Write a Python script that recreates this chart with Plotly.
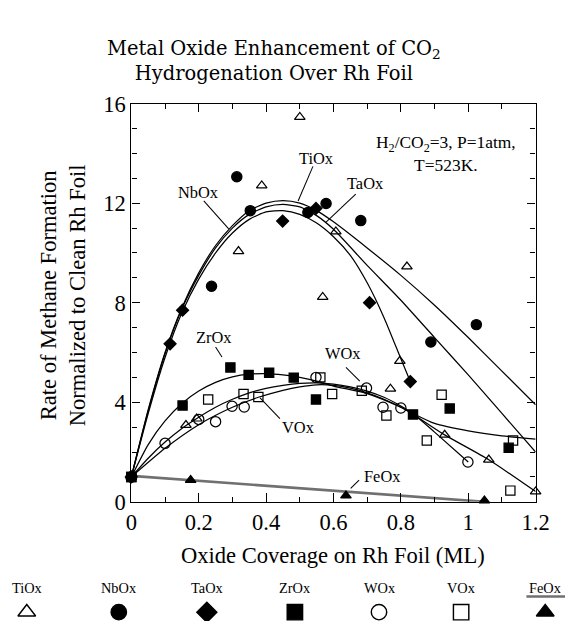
import plotly.graph_objects as go

# ---------------- data ----------------
series_names = ["TiOx", "NbOx", "TaOx", "ZrOx", "WOx", "VOx", "FeOx"]

TiOx_x = [0, 0.162, 0.194, 0.318, 0.387, 0.50, 0.568, 0.607, 0.769, 0.797, 0.818, 0.93, 1.061, 1.2]
TiOx_y = [1, 3.08, 3.34, 10.07, 12.71, 15.46, 8.23, 10.86, 4.54, 5.66, 9.45, 2.69, 1.69, 0.41]

NbOx_x = [0, 0.238, 0.313, 0.353, 0.524, 0.578, 0.681, 0.889, 1.024]
NbOx_y = [1, 8.66, 13.06, 11.7, 11.63, 11.99, 11.3, 6.42, 7.12]

TaOx_x = [0, 0.115, 0.152, 0.449, 0.548, 0.707, 0.828]
TaOx_y = [1, 6.35, 7.7, 11.28, 11.79, 8.0, 4.83]

ZrOx_x = [0, 0.152, 0.294, 0.348, 0.409, 0.482, 0.548, 0.836, 0.945, 1.12]
ZrOx_y = [1, 3.87, 5.40, 5.10, 5.19, 4.99, 4.11, 3.51, 3.75, 2.17]

WOx_x = [0, 0.1, 0.2, 0.25, 0.299, 0.335, 0.548, 0.698, 0.747, 0.8, 0.999]
WOx_y = [1, 2.35, 3.31, 3.22, 3.84, 3.81, 5.0, 4.57, 3.8, 3.77, 1.6]

VOx_x = [0, 0.228, 0.333, 0.377, 0.561, 0.596, 0.684, 0.757, 0.877, 0.921, 1.125, 1.133]
VOx_y = [1, 4.11, 4.33, 4.21, 5.0, 4.33, 4.46, 3.47, 2.46, 4.3, 0.45, 2.46]

FeOx_x = [0, 0.176, 0.637, 1.048]
FeOx_y = [1, 0.87, 0.25, 0.05]

# fitted curves
fitTi_x = [0, 0.05, 0.1, 0.15, 0.2, 0.25, 0.3, 0.35, 0.4, 0.45, 0.5, 0.55, 0.6, 0.7, 0.8, 0.9, 1.0, 1.1, 1.2]
fitTi_y = [1, 3.7, 6.0, 7.8, 9.2, 10.3, 11.1, 11.7, 12.0, 12.1, 12.0, 11.7, 11.25, 10.2, 9.1, 7.9, 6.6, 5.25, 3.9]

fitNb_x = [0, 0.05, 0.1, 0.15, 0.2, 0.25, 0.3, 0.35, 0.4, 0.45, 0.5, 0.55, 0.6, 0.7, 0.8, 0.9, 1.0, 1.1, 1.2]
fitNb_y = [1, 3.65, 5.95, 7.75, 9.1, 10.2, 11.0, 11.55, 11.85, 11.95, 11.85, 11.5, 10.95, 9.5, 8.1, 6.6, 5.1, 3.55, 2.0]

fitTa_x = [0, 0.05, 0.1, 0.15, 0.2, 0.25, 0.3, 0.35, 0.4, 0.45, 0.5, 0.55, 0.6, 0.65, 0.7, 0.75, 0.8, 0.828]
fitTa_y = [1, 3.55, 5.8, 7.6, 8.95, 10.0, 10.8, 11.35, 11.65, 11.7, 11.55, 11.2, 10.65, 9.9, 8.8, 7.4, 5.75, 4.83]

fitZr_x = [0, 0.05, 0.1, 0.15, 0.2, 0.25, 0.3, 0.35, 0.4, 0.45, 0.5, 0.55, 0.6, 0.7, 0.8, 0.836, 0.9, 1.0, 1.1, 1.2]
fitZr_y = [1, 2.3, 3.25, 3.95, 4.45, 4.8, 5.02, 5.13, 5.15, 5.1, 5.0, 4.85, 4.65, 4.35, 3.8, 3.55, 3.15, 2.85, 2.65, 2.52]

fitW_x = [0, 0.05, 0.1, 0.15, 0.2, 0.25, 0.3, 0.35, 0.4, 0.45, 0.5, 0.55, 0.6, 0.65, 0.7, 0.75, 0.8, 0.836, 0.9, 1.0]
fitW_y = [1, 1.75, 2.4, 2.95, 3.4, 3.8, 4.12, 4.38, 4.56, 4.68, 4.76, 4.78, 4.73, 4.62, 4.45, 4.2, 3.85, 3.55, 2.8, 1.6]

fitV_x = [0, 0.1, 0.2, 0.3, 0.377, 0.45, 0.5, 0.55, 0.6, 0.65, 0.7, 0.75, 0.8, 0.836, 0.93, 1.061, 1.2]
fitV_y = [1, 2.15, 3.1, 3.8, 4.2, 4.48, 4.62, 4.7, 4.68, 4.57, 4.38, 4.12, 3.8, 3.52, 2.69, 1.69, 0.41]

fitFe_x = [0, 1.05]
fitFe_y = [1.04, 0.0]

x_tickvals = [0, 0.2, 0.4, 0.6, 0.8, 1.0, 1.2]
x_ticktext = ["0", "0.2", "0.4", "0.6", "0.8", "1", "1.2"]
y_tickvals = [0, 4, 8, 12, 16]

# ---------------- styling ----------------
W, H = 566, 621                      # reference picture size (layout is designed in these pixels)
S = 1.025                            # compensation for the viewer's slight zoom-out
FIG_W, FIG_H = round(W * S), round(H * S)
L, R, T, B = 126.7, 535.3, 93.0, 497.0  # plot area in reference pixels
SERIF = "Liberation Serif"
INK = "black"

def px(x):
    return x / W

def py(y):
    return 1 - y / H

def s(v):
    return v * S

markers = {
    "TiOx": ("triangle-up-open", 9),
    "NbOx": ("circle", 10),
    "TaOx": ("diamond", 9),
    "ZrOx": ("square", 9),
    "WOx": ("circle-open", 10),
    "VOx": ("square-open", 9),
    "FeOx": ("triangle-up", 9),
}
data = {
    "TiOx": (TiOx_x, TiOx_y), "NbOx": (NbOx_x, NbOx_y), "TaOx": (TaOx_x, TaOx_y),
    "ZrOx": (ZrOx_x, ZrOx_y), "WOx": (WOx_x, WOx_y), "VOx": (VOx_x, VOx_y),
    "FeOx": (FeOx_x, FeOx_y),
}
fits = [
    (fitTi_x, fitTi_y), (fitNb_x, fitNb_y), (fitTa_x, fitTa_y),
    (fitZr_x, fitZr_y), (fitW_x, fitW_y), (fitV_x, fitV_y),
]

fig = go.Figure()

for fx, fy in fits:
    fig.add_trace(go.Scatter(x=fx, y=fy, mode="lines",
                             line=dict(color=INK, width=s(1.2), shape="spline", smoothing=0.6),
                             showlegend=False, hoverinfo="skip"))
fig.add_trace(go.Scatter(x=fitFe_x, y=fitFe_y, mode="lines", line=dict(color="#707070", width=s(2.6)),
                         showlegend=False, hoverinfo="skip"))

for name in series_names:
    sym, size = markers[name]
    xs, ys = data[name]
    fig.add_trace(go.Scatter(x=xs, y=ys, mode="markers", name=name,
                             marker=dict(symbol=sym, size=s(size), color=INK,
                                         line=dict(color=INK, width=s(1.2))),
                             showlegend=False, cliponaxis=False))

# curve labels with leader lines (data coordinates)
labels = [
    ("TiOx", 0.549, 13.78, (0.539, 13.48), (0.495, 12.09)),
    ("NbOx", 0.199, 12.42, (0.215, 12.09), (0.289, 10.97)),
    ("TaOx", 0.693, 12.79, (0.666, 12.36), (0.578, 11.24)),
    ("ZrOx", 0.246, 6.62, (0.25, 6.22), (0.269, 5.82)),
    ("WOx", 0.627, 5.94, (0.637, 5.40), (0.678, 4.85)),
    ("VOx", 0.494, 2.97, (0.441, 3.34), (0.382, 4.18)),
    ("FeOx", 0.745, 1.03, (0.676, 0.87), (0.651, 0.54)),
]
for text, tx, ty, p0, p1 in labels:
    fig.add_annotation(x=tx, y=ty, text=text, showarrow=False, xref="x", yref="y",
                       xanchor="center", yanchor="middle",
                       font=dict(family=SERIF, size=s(16), color=INK))
    fig.add_trace(go.Scatter(x=[p0[0], p1[0]], y=[p0[1], p1[1]], mode="lines",
                             line=dict(color=INK, width=s(1)), showlegend=False, hoverinfo="skip"))

fig.add_annotation(x=0.935, y=14.0, xref="x", yref="y", showarrow=False, align="center",
                   xanchor="center", yanchor="middle",
                   text="H<sub>2</sub>/CO<sub>2</sub>=3, P=1atm,<br>T=523K.",
                   font=dict(family=SERIF, size=s(17), color=INK))

# titles
fig.add_annotation(x=px(271), y=py(50), xref="paper", yref="paper", showarrow=False, align="center",
                   xanchor="center", yanchor="middle",
                   text="Metal Oxide Enhancement of CO<sub>2</sub><br>Hydrogenation Over Rh Foil",
                   font=dict(family="DejaVu Serif", size=s(19), color=INK))
fig.add_annotation(x=px(330), y=py(551), xref="paper", yref="paper", showarrow=False,
                   xanchor="center", yanchor="middle",
                   text="Oxide Coverage on Rh Foil (ML)", font=dict(family=SERIF, size=s(22), color=INK))
fig.add_annotation(x=px(57), y=py(287), xref="paper", yref="paper", showarrow=False, textangle=-90,
                   xanchor="center", yanchor="middle",
                   text="Rate of Methane Formation<br>Normalized to Clean Rh Foil",
                   font=dict(family=SERIF, size=s(22), color=INK))

# bottom legend (text above symbol)
leg_x = [21, 114, 203, 292, 377, 460, 545]
for name, lx in zip(series_names, leg_x):
    sym, size = markers[name]
    fig.add_annotation(x=px(lx), y=py(584), xref="paper", yref="paper", showarrow=False,
                       xanchor="center", yanchor="middle",
                       text=name, font=dict(family=SERIF, size=s(14), color=INK))
    fig.add_trace(go.Scatter(x=[lx], y=[609], xaxis="x2", yaxis="y2", mode="markers",
                             marker=dict(symbol=sym, size=s(15), color=INK,
                                         line=dict(color=INK, width=s(1.4))),
                             showlegend=False, hoverinfo="skip"))
fig.add_trace(go.Scatter(x=[526, 565], y=[593, 593], xaxis="x2", yaxis="y2", mode="lines",
                         line=dict(color="#707070", width=s(2.5)), showlegend=False, hoverinfo="skip"))

axis_common = dict(showline=True, linecolor=INK, linewidth=s(1.3), mirror="ticks", ticks="inside",
                   tickcolor=INK, tickwidth=s(1.2), ticklen=s(8), showgrid=False, zeroline=False,
                   tickfont=dict(family=SERIF, size=s(22), color=INK))

fig.update_layout(
    width=FIG_W, height=FIG_H, autosize=False,
    margin=dict(l=0, r=0, t=0, b=0, pad=0),
    paper_bgcolor="white", plot_bgcolor="rgba(0,0,0,0)",
    showlegend=False,
    xaxis=dict(domain=[px(L), px(R)], range=[0, 1.2], tickvals=x_tickvals, ticktext=x_ticktext,
               minor=dict(dtick=0.1, ticks="inside", ticklen=s(5), tickcolor=INK, tickwidth=s(1.2)),
               anchor="y", **axis_common),
    yaxis=dict(domain=[py(B), py(T)], range=[0, 16], tickvals=y_tickvals,
               minor=dict(dtick=1, ticks="inside", ticklen=s(5), tickcolor=INK, tickwidth=s(1.2)),
               anchor="x", **axis_common),
    xaxis2=dict(domain=[0, 1], range=[0, W], visible=False, anchor="y2"),
    yaxis2=dict(domain=[0, 1], range=[H, 0], visible=False, anchor="x2"),
)

fig.write_html(
    "out.html",
    config={"responsive": False, "displayModeBar": False},
    post_script="document.documentElement.style.overflow='hidden';"
                "document.body.style.margin='0';document.body.style.overflow='hidden';",
)
